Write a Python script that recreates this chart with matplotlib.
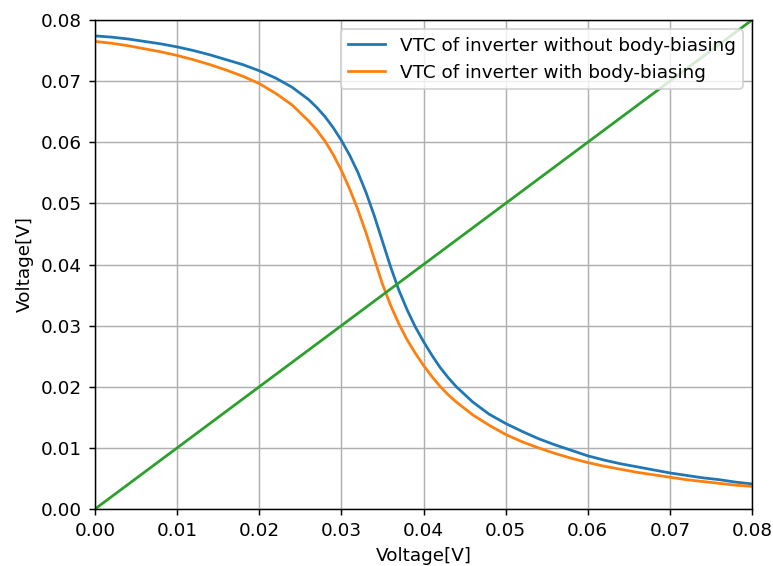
import numpy as np
import matplotlib
matplotlib.use("Agg")
import matplotlib.pyplot as plt

# input voltage samples (finer around the switching point)
vin = [
    0.000, 0.002, 0.004, 0.006, 0.008, 0.010, 0.012, 0.014, 0.016, 0.018,
    0.020, 0.022, 0.024, 0.026, 0.027, 0.028, 0.029, 0.030, 0.031, 0.032,
    0.033, 0.034, 0.035, 0.036, 0.037, 0.038, 0.039, 0.040, 0.041, 0.042,
    0.043, 0.044, 0.046, 0.048, 0.050, 0.052, 0.054, 0.056, 0.058, 0.060,
    0.062, 0.064, 0.066, 0.068, 0.070, 0.072, 0.074, 0.076, 0.078, 0.080,
]

# output voltage, inverter without body-biasing
vout_nobias = [
    0.0774, 0.0772, 0.0769, 0.0765, 0.0761, 0.0756, 0.0750, 0.0743, 0.0735, 0.0727,
    0.0717, 0.0705, 0.0690, 0.0670, 0.0657, 0.0642, 0.0624, 0.0603, 0.0579, 0.0551,
    0.0518, 0.0480, 0.0438, 0.0396, 0.0358, 0.0326, 0.0298, 0.0274, 0.0252, 0.0232,
    0.0215, 0.0200, 0.0175, 0.0155, 0.0140, 0.0127, 0.0115, 0.0105, 0.0096, 0.0087,
    0.0080, 0.0074, 0.0069, 0.0064, 0.0059, 0.0055, 0.0051, 0.0048, 0.0044, 0.0041,
]

# output voltage, inverter with body-biasing
vout_bias = [
    0.0765, 0.0762, 0.0758, 0.0753, 0.0748, 0.0742, 0.0735, 0.0727, 0.0718, 0.0708,
    0.0696, 0.0680, 0.0661, 0.0635, 0.0620, 0.0602, 0.0580, 0.0554, 0.0524, 0.0490,
    0.0452, 0.0410, 0.0368, 0.0333, 0.0303, 0.0277, 0.0255, 0.0235, 0.0217, 0.0201,
    0.0187, 0.0175, 0.0154, 0.0137, 0.0122, 0.0110, 0.0100, 0.0091, 0.0083, 0.0076,
    0.0070, 0.0065, 0.0060, 0.0056, 0.0052, 0.0048, 0.0045, 0.0042, 0.0039, 0.0037,
]

# the reference looks like a default figure saved at ~132 dpi
DPI = 132.5
W, H = 773, 566

fig = plt.figure(figsize=(W / DPI, H / DPI), dpi=DPI)
ax = fig.add_axes([95 / W, 1 - 509 / H, (752 - 95) / W, (509 - 20) / H])

ax.plot(vin, vout_nobias, label="VTC of inverter without body-biasing")
ax.plot(vin, vout_bias, label="VTC of inverter with body-biasing")
ax.plot(vin, vin)

ax.set_xlim(0, 0.08)
ax.set_ylim(0, 0.08)
ax.set_xlabel("Voltage[V]")
ax.set_ylabel("Voltage[V]")
ax.grid()
ax.legend(loc="upper right")

fig.savefig("out.png", dpi=DPI)
